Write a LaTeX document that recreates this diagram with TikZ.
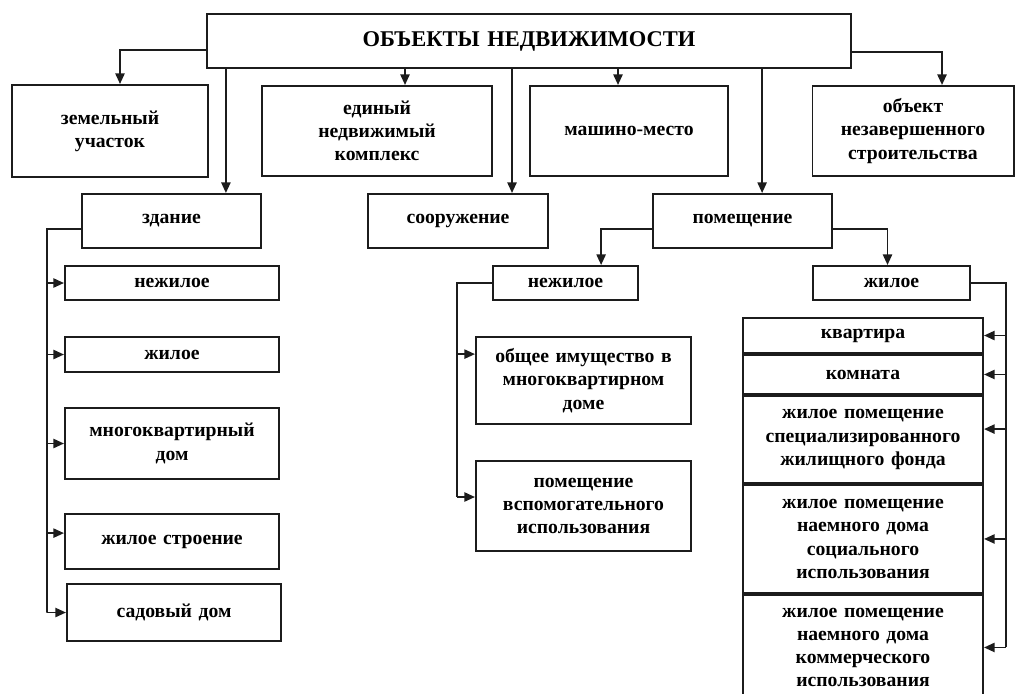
\documentclass[tikz,border=0pt]{standalone}
\usepackage{fontspec}
\setmainfont{Liberation Serif}
\usetikzlibrary{positioning,arrows.meta}
\definecolor{objline}{HTML}{1C1C1C}

\begin{document}
\begin{tikzpicture}[x=0.025cm, y=-0.025cm,
  objbox/.style={draw=objline, fill=white, line width=1.4pt, inner xsep=0pt, inner ysep=2pt,
    font=\fontsize{14}{16.5}\selectfont\bfseries, text=black, align=center},
  flow/.style={-{Triangle[length=7.5pt,width=6.5pt]}, objline, line width=1.3pt},
  bus/.style={objline, line width=1.3pt}]
  \useasboundingbox (0,0) rectangle (1016,693);
  % first level
  \node[objbox, text width=16.1cm, minimum height=1.35cm,
    font=\fontsize{16}{19}\selectfont\bfseries] (top) at (529,41) {ОБЪЕКТЫ НЕДВИЖИМОСТИ};
  \node[objbox, text width=4.9cm, minimum height=2.3cm] (zem) at (110,131) {земельный\\участок};
  \node[objbox, text width=5.75cm, minimum height=2.25cm] (edin) at (377,131) {единый\\недвижимый\\комплекс};
  \node[objbox, text width=4.95cm, minimum height=2.25cm] (mash) at (629,131) {машино-место};
  \node[objbox, text width=5.025cm, minimum height=2.25cm] (obj) at (913,131) {объект\\незавершенного\\строительства};
  \node[objbox, text width=4.475cm, minimum height=1.35cm] (zd) at (171.5,221) {здание};
  \node[objbox, text width=4.5cm, minimum height=1.35cm] (soor) at (458,221) {сооружение};
  \node[objbox, text width=4.475cm, minimum height=1.35cm] (pom) at (742.5,221) {помещение};
  % здание
  \node[objbox, text width=5.35cm, minimum height=0.85cm] (nezh1) at (172,283) {нежилое};
  \node[objbox, text width=5.35cm, minimum height=0.875cm] (zhil1) at (172,354.5) {жилое};
  \node[objbox, text width=5.35cm, minimum height=1.775cm] (mnog) at (172,443.5) {многоквартирный\\дом};
  \node[objbox, text width=5.35cm, minimum height=1.375cm] (zhstr) at (172,541.5) {жилое строение};
  \node[objbox, text width=5.35cm, minimum height=1.425cm] (sad) at (174,612.5) {садовый дом};
  % помещение
  \node[objbox, text width=3.625cm, minimum height=0.85cm] (nezh2) at (565.5,283) {нежилое};
  \node[objbox, text width=5.375cm, minimum height=2.175cm] (obsh) at (583.5,380.5) {общее имущество в\\многоквартирном\\доме};
  \node[objbox, text width=5.375cm, minimum height=2.25cm] (vspom) at (583.5,506) {помещение\\вспомогательного\\использования};
  \node[objbox, text width=3.925cm, minimum height=0.85cm] (zhil2) at (891.5,283) {жилое};
  \node[objbox, text width=6cm, minimum height=0.875cm] (kv) at (863,335.5) {квартира};
  \node[objbox, text width=6cm, minimum height=0.975cm, below=0pt of kv] (kom) {комната};
  \node[objbox, text width=6cm, minimum height=2.175cm, below=0pt of kom] (spec) {жилое помещение\\специализированного\\жилищного фонда};
  \node[objbox, text width=6cm, minimum height=2.7cm, below=0pt of spec] (soc) {жилое помещение\\наемного дома\\социального\\использования};
  \node[objbox, text width=6cm, minimum height=2.625cm, below=0pt of soc] (kom2) {жилое помещение\\наемного дома\\коммерческого\\использования};

  % from the top box
  \draw[flow] ([yshift=-0.225cm]top.west) -| ([xshift=0.25cm]zem.north);
  \draw[flow] ([xshift=1.36cm]zd.north |- top.south) -- ([xshift=1.36cm]zd.north);
  \draw[flow] ([xshift=0.7cm]edin.north |- top.south) -- ([xshift=0.7cm]edin.north);
  \draw[flow] ([xshift=1.35cm]soor.north |- top.south) -- ([xshift=1.35cm]soor.north);
  \draw[flow] ([xshift=-0.275cm]mash.north |- top.south) -- ([xshift=-0.275cm]mash.north);
  \draw[flow] ([xshift=0.49cm]pom.north |- top.south) -- ([xshift=0.49cm]pom.north);
  \draw[flow] ([yshift=-0.275cm]top.east) -| ([xshift=0.725cm]obj.north);

  % здание
  \coordinate (zdbus) at (47,229);
  \draw[bus] ([yshift=-0.2cm]zd.west) -- (zdbus) -- (zdbus |- sad.west);
  \foreach \n in {nezh1,zhil1,mnog,sad}
    \draw[flow] (zdbus |- \n.west) -- (\n.west);
  \draw[flow] ([yshift=0.21cm]zhstr.west -| zdbus) -- ([yshift=0.21cm]zhstr.west);

  % помещение
  \draw[flow] ([yshift=-0.2cm]pom.west) -| ([xshift=0.89cm]nezh2.north);
  \draw[flow] ([yshift=-0.2cm]pom.east) -| ([xshift=-0.1cm]zhil2.north);
  \coordinate (nzbus) at (457,283);
  \draw[bus] (nezh2.west) -- (nzbus) -- (nzbus |- 0,497);
  \draw[flow] ([yshift=0.66cm]obsh.west -| nzbus) -- ([yshift=0.66cm]obsh.west);
  \draw[flow] ([yshift=0.225cm]vspom.west -| nzbus) -- ([yshift=0.225cm]vspom.west);
  \coordinate (zhbus) at (1006,283);
  \draw[bus] (zhil2.east) -- (zhbus) -- (zhbus |- kom2.east);
  \foreach \n in {kv,kom,soc,kom2}
    \draw[flow] (zhbus |- \n.east) -- (\n.east);
  \draw[flow] ([yshift=0.26cm]spec.east -| zhbus) -- ([yshift=0.26cm]spec.east);
\end{tikzpicture}
\end{document}
